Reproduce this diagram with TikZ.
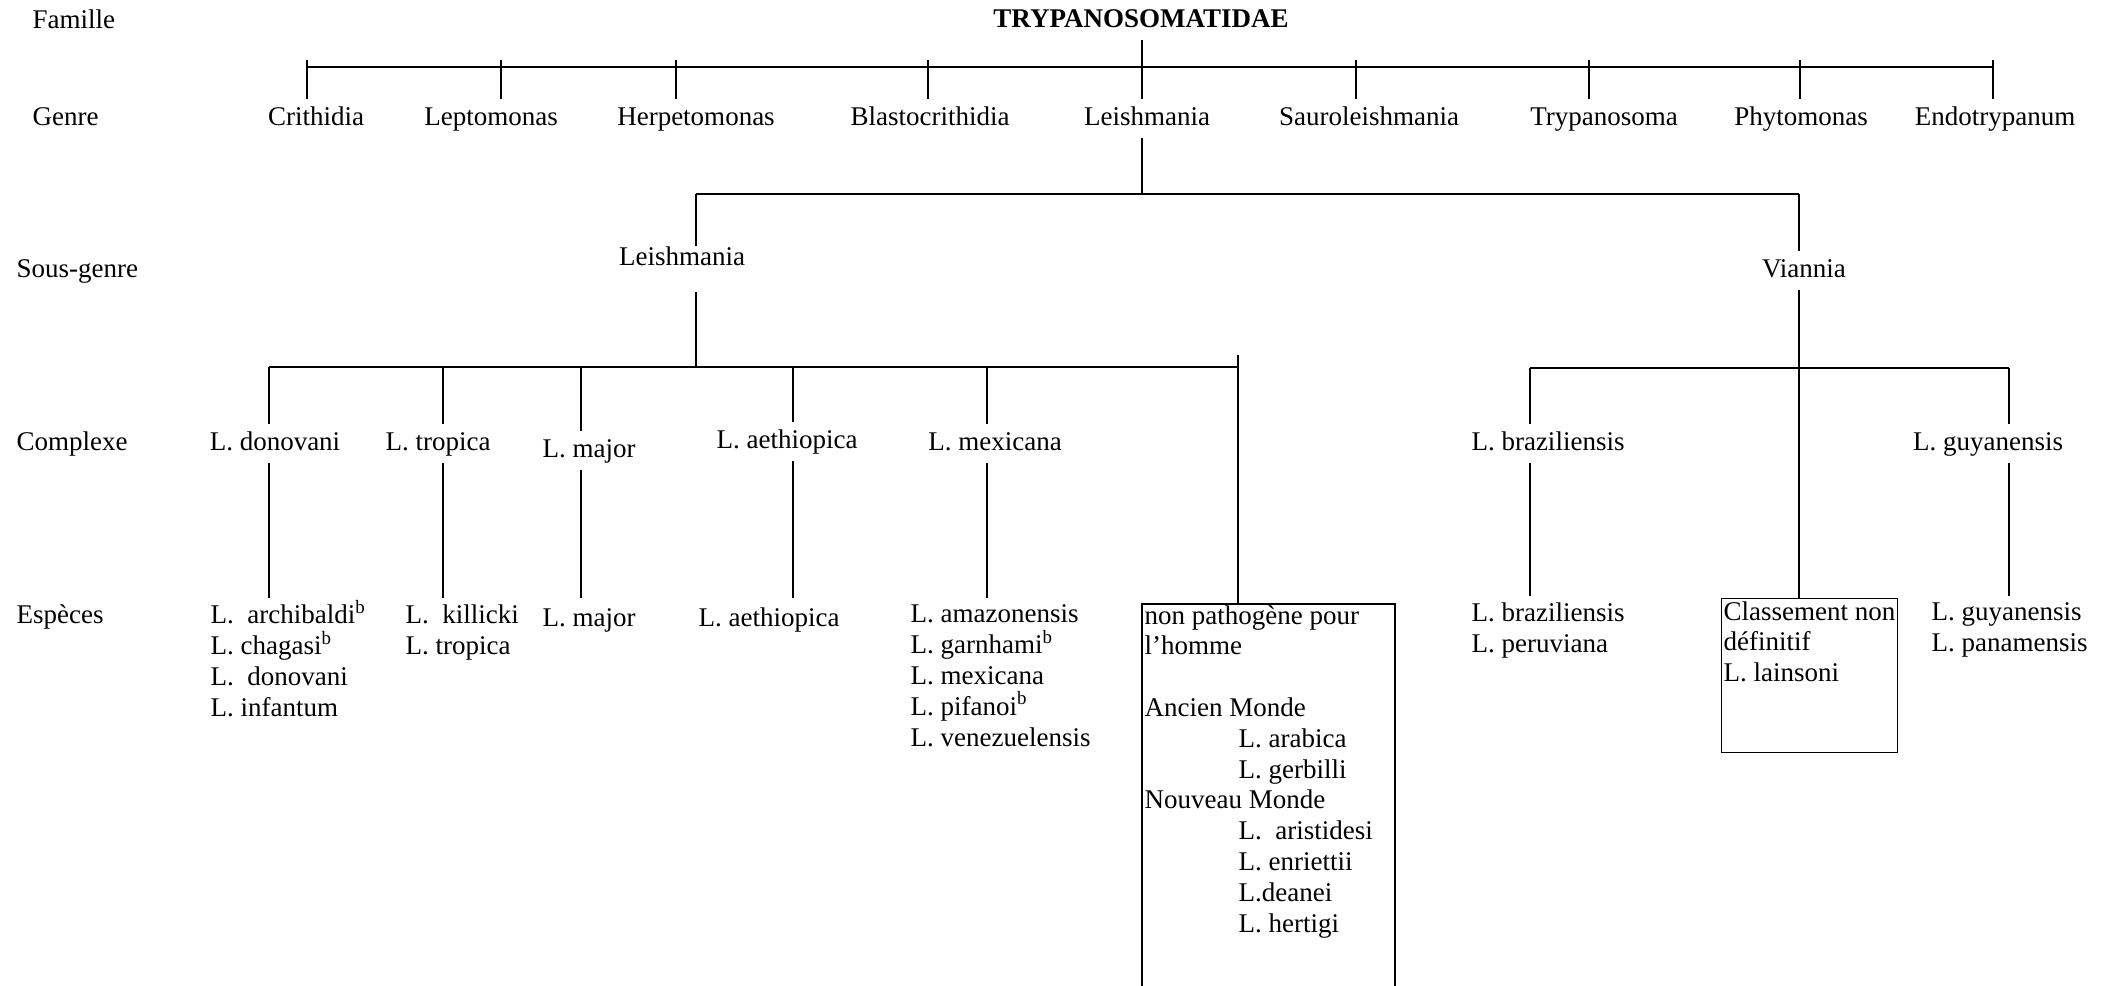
\documentclass[tikz,border=0pt]{standalone}
\usepackage{fontspec}
\setmainfont{Liberation Serif}

\newcommand\taxfont{\fontsize{13.5}{15.4}\selectfont}
\newcommand\supb{\smash{\textsuperscript{b}}}

\begin{document}
\begin{tikzpicture} [x=0.5pt, y=-0.5pt,
            line width=0.6pt,
            taxon/.style = {font=\taxfont, inner sep=0pt, outer ysep=3.5pt,
                anchor=base, text height=9.3pt, text depth=3pt},
            rowlabel/.style = {font=\taxfont, inner sep=0pt, anchor=base west},
            splist/.style = {font=\taxfont, inner sep=0pt, outer ysep=3.5pt,
                anchor=north west, align=left, execute at begin node=\strut},
            frame/.style = {draw, inner sep=0pt, anchor=north west}]

        \useasboundingbox (0,0) rectangle (2106,986);

        % Row labels
        \node (lab-fam) [rowlabel] at (32,28) {Famille};
        \node (lab-gen) [rowlabel] at (32,125) {Genre};
        \node (lab-sg) [rowlabel] at (16,277) {Sous-genre};
        \node (lab-cx) [rowlabel] at (16,450) {Complexe};
        \node (lab-sp) [rowlabel] at (16,623) {Espèces};

        % Family
        \node (fam) [taxon, font=\taxfont\bfseries] at (1141,27) {TRYPANOSOMATIDAE};

        % Genera
        \foreach \n/\x/\t in {crith/316/Crithidia, lepto/491/Leptomonas,
                herp/696/Herpetomonas, blast/930/Blastocrithidia,
                leish/1147/Leishmania, saur/1369/Sauroleishmania,
                tryp/1604/Trypanosoma, phyt/1801/Phytomonas,
                endo/1995/Endotrypanum}
            \node (\n) [taxon] at (\x,125) {\t};

        % Subgenera
        \node (sgL) [taxon, outer ysep=0pt] at (682,265) {Leishmania};
        \node (sgV) [taxon] at (1804,277) {Viannia};

        % Complexes
        \foreach \n/\x/\y/\t in {don/275/450/L. donovani, trop/438/450/L. tropica,
                maj/589/457/L. major, aeth/787/448/L. aethiopica,
                mex/995/450/L. mexicana, braz/1548/450/L. braziliensis,
                guy/1988/450/L. guyanensis}
            \node (cx-\n) [taxon] at (\x,\y) {\t};

        % Species
        \node (sp-don) [splist] at (210,598)
            {L.\ \ archibaldi\supb\\ L. chagasi\supb\\ L.\ \ donovani\\ L. infantum};
        \node (sp-trop) [splist] at (405,598) {L.\ \ killicki\\ L. tropica};
        \node (sp-maj) [splist] at (542,598) {L. major};
        \node (sp-aeth) [splist] at (698,598) {L. aethiopica};
        \node (sp-mex) [splist] at (910,598)
            {L. amazonensis\\ L. garnhami\supb\\ L. mexicana\\ L. pifanoi\supb\\ L. venezuelensis};
        \node (sp-braz) [splist] at (1471,596) {L. braziliensis\\ L. peruviana};
        \node (sp-guy) [splist] at (1931,596) {L. guyanensis\\ L. panamensis};

        % Box: non pathogène
        \coordinate (np-nw) at (1142,604);
        \coordinate (np-ne) at (1395,604);
        \coordinate (pagebot) at (0,986);
        \node (nonpath) [splist, outer ysep=0pt] at (1144,605.4)
            {non pathogène pour\\
             l'homme\\[15.4pt]
             Ancien Monde\\
             \hspace*{47pt}L. arabica\\
             \hspace*{47pt}L. gerbilli\\
             Nouveau Monde\\
             \hspace*{47pt}L.\ \ aristidesi\\
             \hspace*{47pt}L. enriettii\\
             \hspace*{47pt}L.deanei\\
             \hspace*{47pt}L. hertigi};
        \draw (np-nw |- pagebot) -- (np-nw) -- (np-ne) -- (np-ne |- pagebot);

        % Box: classement non défini
        \node (classnd) [frame, minimum width=88pt, minimum height=77pt] at (1721,598) {};
        \node (classnd-txt) [splist, outer ysep=0pt] at (1723,601.4)
            {Classement non\\ définitif\\ L. lainsoni};

        % Lines: family to genera
        \coordinate (gbar) at (1142,67);
        \foreach \n/\x in {crith/307, lepto/501, herp/676, blast/928,
                saur/1356, tryp/1589, phyt/1800, endo/1993}
            {\coordinate (t-\n) at (\x,60);
             \draw (t-\n) -- (t-\n |- \n.north);}
        \draw (t-crith |- gbar) -- (t-endo |- gbar);
        \draw (fam.south -| gbar) -- (gbar |- leish.north);

        % Lines: Leishmania to subgenera
        \coordinate (k-sgL) at (696,194);
        \coordinate (k-sgV) at (1799,194);
        \draw (gbar |- leish.south) -- (gbar |- k-sgL);
        \draw (k-sgL) -- (k-sgV);
        \draw (k-sgL) -- (k-sgL |- sgL.north);
        \draw (k-sgV) -- (k-sgV |- sgV.north);

        % Lines: subgenus Leishmania to complexes
        \coordinate (cbarL) at (696,367);
        \coordinate (k-np) at (1238,355);
        \draw (k-sgL |- sgL.south) ++(0,21) -- (cbarL);
        \foreach \n/\x in {don/269, trop/443, maj/581, aeth/793, mex/987}
            {\coordinate (k-\n) at (\x,367);
             \draw (k-\n) -- (k-\n |- cx-\n.north);
             \draw (k-\n |- cx-\n.south) -- (k-\n |- sp-\n.north);}
        \draw (k-don) -- (k-don -| k-np);
        \draw (k-np) -- (k-np |- np-nw);

        % Lines: subgenus Viannia to complexes
        \coordinate (k-braz) at (1530,368);
        \coordinate (k-guy) at (2009,368);
        \draw (k-braz) -- (k-guy);
        \draw (k-sgV |- sgV.south) -- (k-sgV |- classnd.north);
        \foreach \n in {braz, guy}
            {\draw (k-\n) -- (k-\n |- cx-\n.north);
             \draw (k-\n |- cx-\n.south) -- (k-\n |- sp-\n.north);}
        \end{tikzpicture}
\end{document}
